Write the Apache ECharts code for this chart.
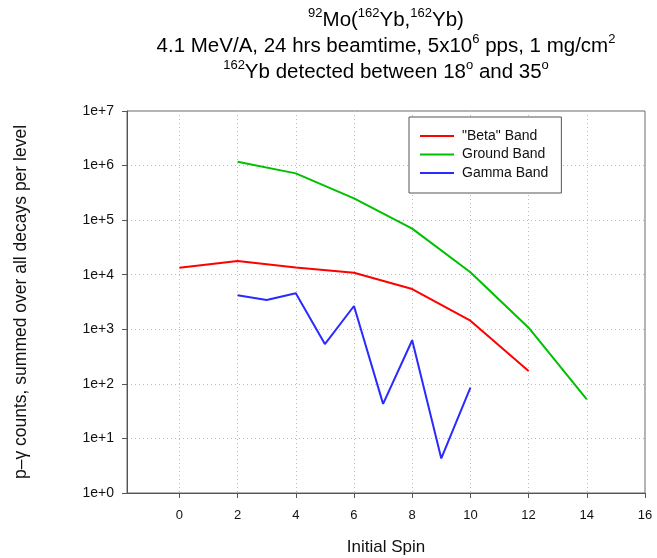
<!DOCTYPE html>
<html>
<head>
<meta charset="utf-8">
<script src="https://cdn.jsdelivr.net/npm/echarts@6/dist/echarts.min.js"></script>
<style>html,body{margin:0;padding:0;background:#fff;}#c{width:657px;height:558px;}</style>
</head>
<body>
<div id="c"></div>
<script>
const xTicks = [0, 2, 4, 6, 8, 10, 12, 14, 16];
const betaSpin = [0, 2, 4, 6, 8, 10, 12];
const betaCounts = [13400, 17800, 13600, 10900, 5470, 1440, 172];
const groundSpin = [2, 4, 6, 8, 10, 12, 14];
const groundCounts = [1180000, 720000, 250000, 70000, 11100, 1070, 52];
const gammaSpin = [2, 3, 4, 5, 6, 7, 8, 9, 10];
const gammaCounts = [4200, 3440, 4560, 537, 2670, 43, 630, 4.3, 85];
const seriesNames = ['"Beta" Band', 'Ground Band', 'Gamma Band'];

const pairs = (xs, ys) => xs.map((x, i) => [x, ys[i]]);
const FONT = 'Liberation Sans, Arial, sans-serif';
const supStyle = { fontSize: 13, fontFamily: FONT, color: '#111', verticalAlign: 'top', lineHeight: 14 };
const baseStyle = { fontSize: 20.5, fontFamily: FONT, color: '#111', verticalAlign: 'bottom', lineHeight: 24 };

const chart = echarts.init(document.getElementById('c'), null, { renderer: 'canvas' });
chart.setOption({
  animation: false,
  backgroundColor: '#fff',
  graphic: [
    { type: 'text', x: 386, y: 7, style: { text: '{s|92}{b|Mo(}{s|162}{b|Yb,}{s|162}{b|Yb)}', align: 'center', rich: { s: supStyle, b: baseStyle } } },
    { type: 'text', x: 386, y: 33, style: { text: '{b|4.1 MeV/A, 24 hrs beamtime, 5x10}{s|6}{b| pps, 1 mg/cm}{s|2}', align: 'center', rich: { s: supStyle, b: baseStyle } } },
    { type: 'text', x: 386, y: 59, style: { text: '{s|162}{b|Yb detected between 18}{s|o}{b| and 35}{s|o}', align: 'center', rich: { s: supStyle, b: baseStyle } } }
  ],
  grid: { left: 127, top: 111, right: 12, bottom: 65, show: true, borderColor: '#666', borderWidth: 1, containLabel: false, outerBoundsMode: 'none' },
  legend: {
    orient: 'vertical', left: 409, top: 117,
    data: seriesNames,
    icon: 'rect', itemWidth: 34, itemHeight: 2, itemGap: 2.5,
    padding: [11, 13, 12, 11],
    borderColor: '#555', borderWidth: 1, backgroundColor: '#fff',
    textStyle: { fontSize: 14, fontFamily: FONT, color: '#111', lineHeight: 16, padding: [0, 0, 0, 3] }
  },
  xAxis: {
    type: 'value', min: -1.8, max: 16, interval: 2,
    name: 'Initial Spin', nameLocation: 'middle', nameGap: 46,
    nameTextStyle: { fontSize: 17, fontFamily: FONT, color: '#111' },
    axisLine: { onZero: false, lineStyle: { color: '#555', width: 1 } },
    axisTick: { show: true, length: 5, inside: false, customValues: xTicks, lineStyle: { color: '#555' } },
    axisLabel: { customValues: xTicks, fontSize: 13, fontFamily: FONT, color: '#111', margin: 16 },
    splitLine: { show: true, lineStyle: { color: '#bbb', type: [1, 3], width: 1 } }
  },
  yAxis: {
    type: 'log', logBase: 10, min: 1, max: 1e7,
    name: 'p–γ counts, summed over all decays per level', nameLocation: 'middle', nameGap: 97,
    nameTextStyle: { fontSize: 17.5, fontFamily: FONT, color: '#111' },
    axisLine: { show: true, onZero: false, lineStyle: { color: '#555', width: 1 } },
    axisTick: { show: true, length: 5, lineStyle: { color: '#555' } },
    minorTick: { show: false },
    axisLabel: {
      fontSize: 14, fontFamily: FONT, color: '#111', margin: 13,
      formatter: v => '1e+' + Math.round(Math.log10(v))
    },
    splitLine: { show: true, lineStyle: { color: '#bbb', type: [1, 3], width: 1 } }
  },
  series: [
    { name: seriesNames[0], type: 'line', data: pairs(betaSpin, betaCounts), symbol: 'none', color: '#ff0000', lineStyle: { width: 2, color: '#ff0000' } },
    { name: seriesNames[1], type: 'line', data: pairs(groundSpin, groundCounts), symbol: 'none', color: '#00c000', lineStyle: { width: 2, color: '#00c000' } },
    { name: seriesNames[2], type: 'line', data: pairs(gammaSpin, gammaCounts), symbol: 'none', color: '#2a2aff', lineStyle: { width: 2, color: '#2a2aff' } }
  ]
});
</script>
</body>
</html>
